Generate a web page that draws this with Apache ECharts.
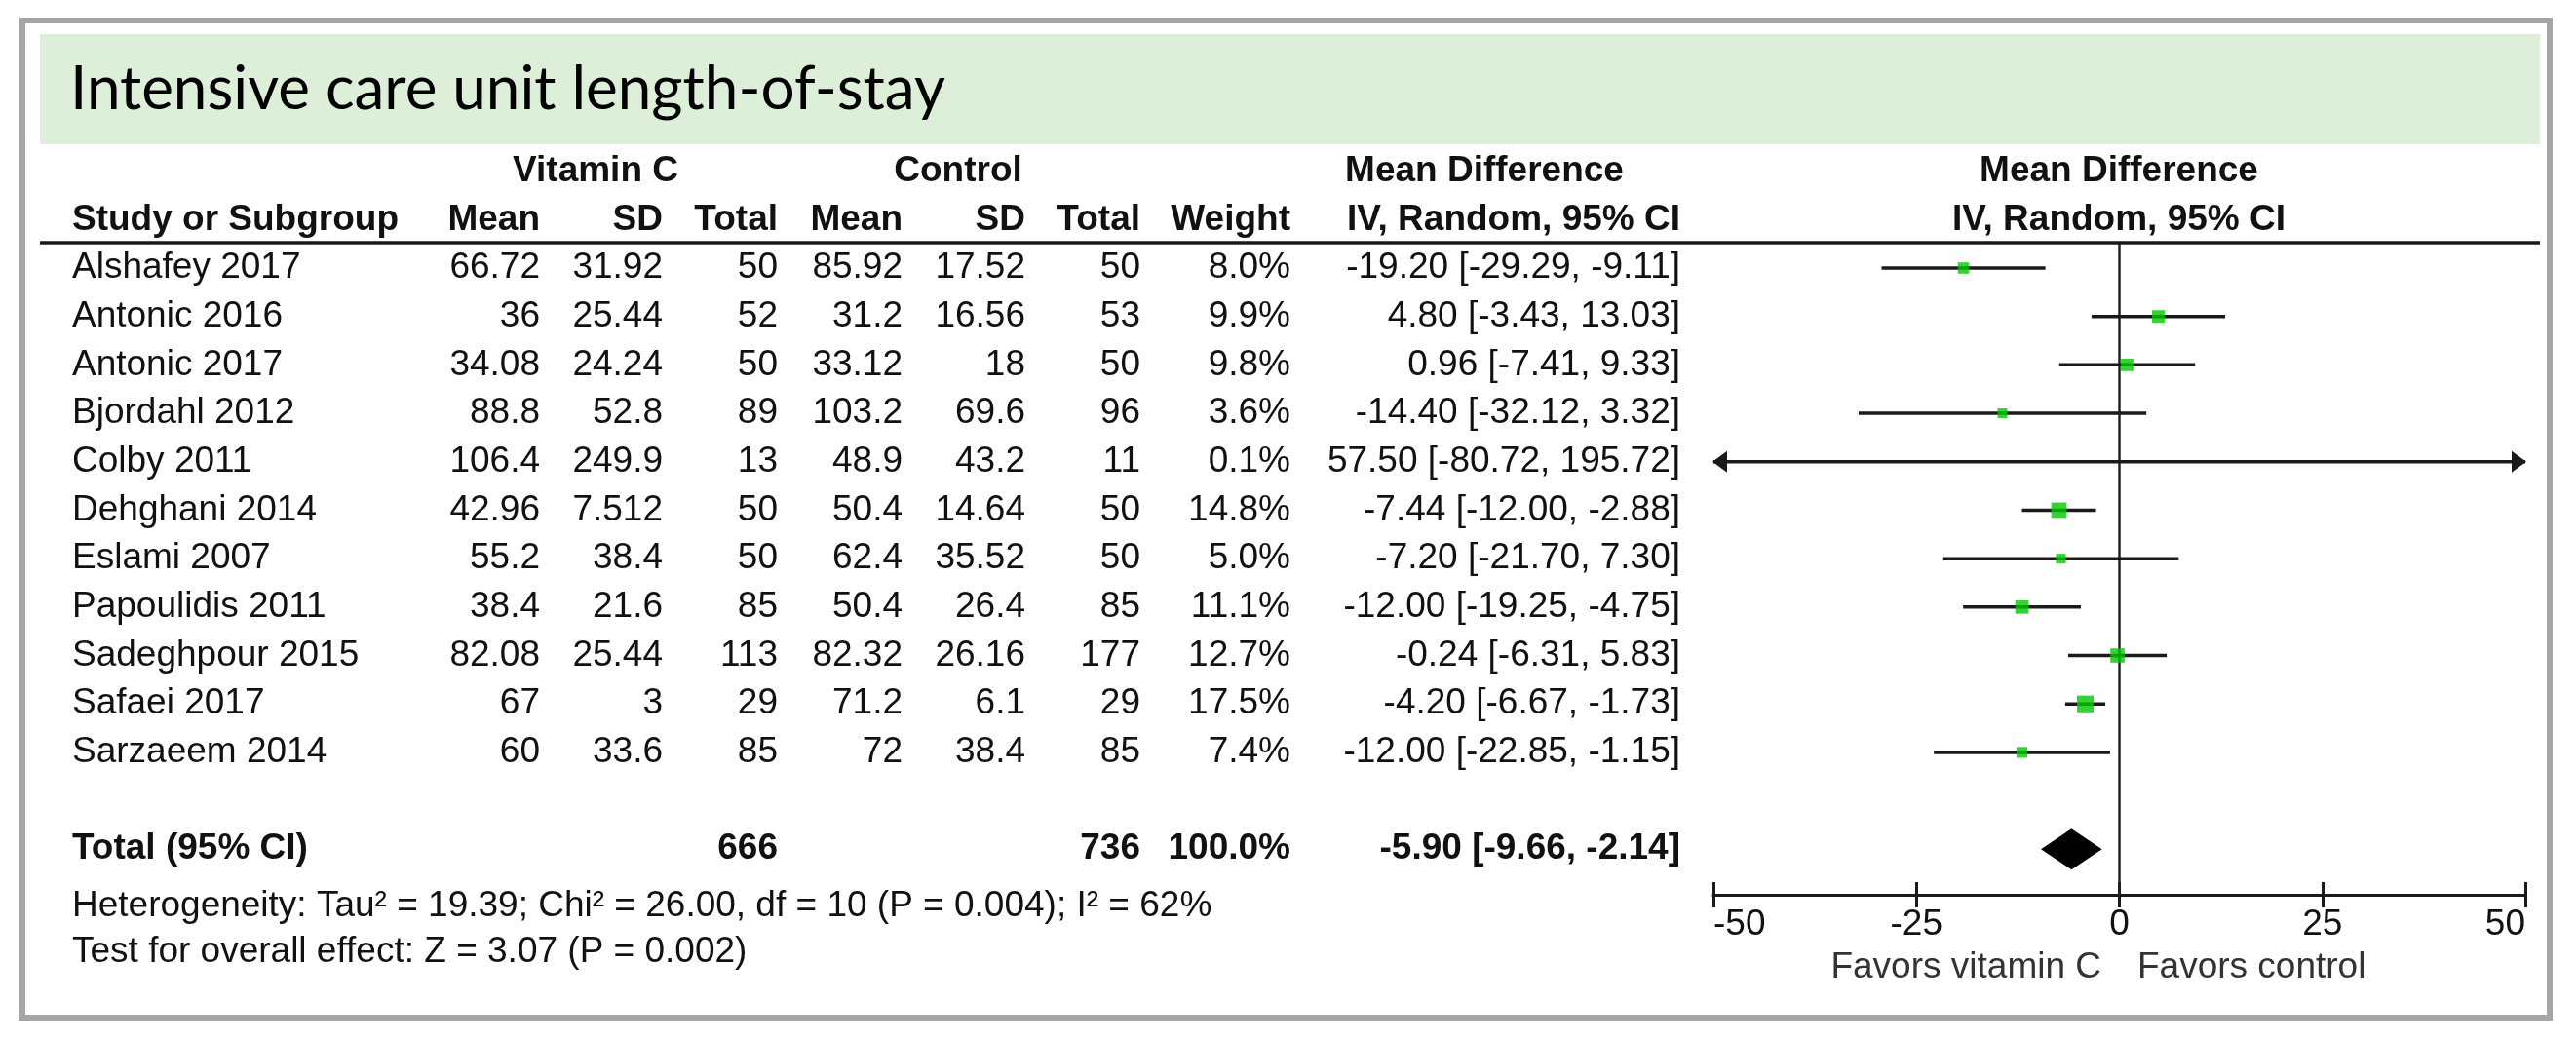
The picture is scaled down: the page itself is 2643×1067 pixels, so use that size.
<!DOCTYPE html>
<html><head><meta charset="utf-8">
<script src="https://cdn.jsdelivr.net/npm/echarts@6/dist/echarts.min.js"></script>
<style>html,body{margin:0;padding:0;background:#fff}#c{width:2643px;height:1067px}</style>
</head><body><div id="c"></div>
<script>
// ---------- data ----------
const studies = ['Alshafey 2017','Antonic 2016','Antonic 2017','Bjordahl 2012','Colby 2011','Dehghani 2014','Eslami 2007','Papoulidis 2011','Sadeghpour 2015','Safaei 2017','Sarzaeem 2014'];
const vitCMean = ['66.72','36','34.08','88.8','106.4','42.96','55.2','38.4','82.08','67','60'];
const vitCSD = ['31.92','25.44','24.24','52.8','249.9','7.512','38.4','21.6','25.44','3','33.6'];
const vitCTotal = [50,52,50,89,13,50,50,85,113,29,85];
const ctrlMean = ['85.92','31.2','33.12','103.2','48.9','50.4','62.4','50.4','82.32','71.2','72'];
const ctrlSD = ['17.52','16.56','18','69.6','43.2','14.64','35.52','26.4','26.16','6.1','38.4'];
const ctrlTotal = [50,53,50,96,11,50,50,85,177,29,85];
const weights = [8.0,9.9,9.8,3.6,0.1,14.8,5.0,11.1,12.7,17.5,7.4];
const meanDiff = [-19.20,4.80,0.96,-14.40,57.50,-7.44,-7.20,-12.00,-0.24,-4.20,-12.00];
const ciLower = [-29.29,-3.43,-7.41,-32.12,-80.72,-12.00,-21.70,-19.25,-6.31,-6.67,-22.85];
const ciUpper = [-9.11,13.03,9.33,3.32,195.72,-2.88,7.30,-4.75,5.83,-1.73,-1.15];
const totalVitC = 666;
const totalCtrl = 736;
const totalWeight = 100.0;
const pooled = [-5.90, -9.66, -2.14]; // estimate, lower, upper
const xTicks = [-50, -25, 0, 25, 50];
const titleText = 'Intensive care unit length-of-stay';
const heterogeneityText = 'Heterogeneity: Tau\u00b2 = 19.39; Chi\u00b2 = 26.00, df = 10 (P = 0.004); I\u00b2 = 62%';
const overallText = 'Test for overall effect: Z = 3.07 (P = 0.002)';
const favorsLeft = 'Favors vitamin C';
const favorsRight = 'Favors control';

// ---------- layout / style ----------
const FONT = "'Liberation Sans', Arial, sans-serif";
const FS = 37;
const TXT = '#111';
const totalRowIndex = studies.length + 1;
const nameX = 74;
const colRight = [554, 680, 798, 926, 1052, 1170, 1324, 1724];
const fmt2 = v => v.toFixed(2);
const ciText = i => fmt2(meanDiff[i]) + ' [' + fmt2(ciLower[i]) + ', ' + fmt2(ciUpper[i]) + ']';

const chart = echarts.init(document.getElementById('c'), null, {renderer: 'canvas'});

function txt(x, y, text, align, bold, fill) {
  return {type: 'text', x: x, y: y, z: 5, silent: true,
    style: {text: text, fill: fill || TXT, align: align || 'left', verticalAlign: 'middle',
      font: (bold ? 'bold ' : '') + FS + 'px ' + FONT}};
}

const xMin = xTicks[0], xMax = xTicks[xTicks.length - 1];
const tableData = studies.map((s, i) => [0, i]);

const option = {
  backgroundColor: '#ffffff',
  animation: false,
  grid: [{left: 1758, width: 833, top: 249, height: 669, containLabel: false}],
  xAxis: [
    {type: 'value', gridIndex: 0, min: xMin, max: xMax, interval: xTicks[1] - xTicks[0], position: 'bottom',
      axisLine: {show: true, onZero: false, lineStyle: {color: '#1a1a1a', width: 3}},
      axisTick: {show: true, length: 13, lineStyle: {color: '#1a1a1a', width: 3}},
      axisLabel: {show: true, fontSize: FS, fontFamily: FONT, color: TXT, margin: 12,
        alignMinLabel: 'left', alignMaxLabel: 'right'},
      splitLine: {show: false}},
    {type: 'value', gridIndex: 0, min: xMin, max: xMax, interval: xTicks[1] - xTicks[0], position: 'bottom', offset: 0,
      axisLine: {show: false, onZero: false},
      axisTick: {show: true, inside: true, length: 13, lineStyle: {color: '#1a1a1a', width: 3}},
      axisLabel: {show: false}, splitLine: {show: false}}
  ],
  yAxis: [{type: 'value', gridIndex: 0, inverse: true, min: -0.523, max: 12.94, show: false}],
  graphic: [
    {type: 'rect', z: 0, silent: true, shape: {x: 23, y: 21, width: 2593, height: 1023},
      style: {fill: '#ffffff', stroke: '#a6a6a6', lineWidth: 6}},
    {type: 'rect', z: 1, silent: true, shape: {x: 41, y: 35, width: 2565, height: 113},
      style: {fill: '#ddefd9'}},
    {type: 'text', z: 5, silent: true, x: 72, y: 92,
      style: {text: titleText, fill: '#000', align: 'left', verticalAlign: 'middle', font: "62px Lato, 'Open Sans', sans-serif"}},
    {type: 'line', z: 5, silent: true, shape: {x1: 41, y1: 249, x2: 2606, y2: 249},
      style: {stroke: '#1a1a1a', lineWidth: 3.5}},
    // header row 1
    txt(611, 176, 'Vitamin C', 'center', true),
    txt(983, 176, 'Control', 'center', true),
    txt(1523, 176, 'Mean Difference', 'center', true),
    txt(2174, 176, 'Mean Difference', 'center', true),
    // header row 2
    txt(nameX, 226, 'Study or Subgroup', 'left', true),
    txt(colRight[0], 226, 'Mean', 'right', true),
    txt(colRight[1], 226, 'SD', 'right', true),
    txt(colRight[2], 226, 'Total', 'right', true),
    txt(colRight[3], 226, 'Mean', 'right', true),
    txt(colRight[4], 226, 'SD', 'right', true),
    txt(colRight[5], 226, 'Total', 'right', true),
    txt(colRight[6], 226, 'Weight', 'right', true),
    txt(colRight[7], 226, 'IV, Random, 95% CI', 'right', true),
    txt(2174, 226, 'IV, Random, 95% CI', 'center', true),
    // footer
    txt(nameX, 930, heterogeneityText, 'left', false),
    txt(nameX, 977, overallText, 'left', false),
    txt(2156, 993, favorsLeft, 'right', false, '#333'),
    txt(2193, 993, favorsRight, 'left', false, '#333')
  ],
  series: [
    // table text per study
    {type: 'custom', xAxisIndex: 0, yAxisIndex: 0, clip: false, silent: true, z: 4,
      data: tableData,
      renderItem: function (params, api) {
        const i = params.dataIndex;
        const y = api.coord([0, api.value(1)])[1];
        const cells = [vitCMean[i], vitCSD[i], String(vitCTotal[i]), ctrlMean[i], ctrlSD[i], String(ctrlTotal[i]),
          weights[i].toFixed(1) + '%', ciText(i)];
        const children = [{type: 'text', x: nameX, y: y, style: {text: studies[i], fill: TXT, align: 'left', verticalAlign: 'middle', font: FS + 'px ' + FONT}}];
        cells.forEach((c, k) => children.push({type: 'text', x: colRight[k], y: y,
          style: {text: c, fill: TXT, align: 'right', verticalAlign: 'middle', font: FS + 'px ' + FONT}}));
        return {type: 'group', children: children};
      }},
    // total row text
    {type: 'custom', xAxisIndex: 0, yAxisIndex: 0, clip: false, silent: true, z: 4,
      data: [[0, totalRowIndex]],
      renderItem: function (params, api) {
        const y = api.coord([0, api.value(1)])[1];
        const f = 'bold ' + FS + 'px ' + FONT;
        const mk = (x, t, a) => ({type: 'text', x: x, y: y, style: {text: t, fill: TXT, align: a, verticalAlign: 'middle', font: f}});
        return {type: 'group', children: [
          mk(nameX, 'Total (95% CI)', 'left'),
          mk(colRight[2], String(totalVitC), 'right'),
          mk(colRight[5], String(totalCtrl), 'right'),
          mk(colRight[6], totalWeight.toFixed(1) + '%', 'right'),
          mk(colRight[7], fmt2(pooled[0]) + ' [' + fmt2(pooled[1]) + ', ' + fmt2(pooled[2]) + ']', 'right')
        ]};
      }},
    // confidence interval lines with arrows when off-scale
    {type: 'custom', xAxisIndex: 0, yAxisIndex: 0, clip: false, silent: true, z: 3,
      data: studies.map((s, i) => [i, ciLower[i], ciUpper[i]]),
      renderItem: function (params, api) {
        const row = api.value(0), lo = api.value(1), hi = api.value(2);
        const p1 = api.coord([Math.max(lo, xMin), row]);
        const p2 = api.coord([Math.min(hi, xMax), row]);
        const col = '#1a1a1a';
        const ch = [{type: 'line', shape: {x1: p1[0], y1: p1[1], x2: p2[0], y2: p2[1]}, style: {stroke: col, lineWidth: 3.5}}];
        if (lo < xMin) ch.push({type: 'polygon', shape: {points: [[p1[0] - 1, p1[1]], [p1[0] + 14, p1[1] - 11], [p1[0] + 14, p1[1] + 11]]}, style: {fill: col}});
        if (hi > xMax) ch.push({type: 'polygon', shape: {points: [[p2[0] + 1, p2[1]], [p2[0] - 14, p2[1] - 11], [p2[0] - 14, p2[1] + 11]]}, style: {fill: col}});
        return {type: 'group', children: ch};
      }},
    // study squares
    {type: 'scatter', xAxisIndex: 0, yAxisIndex: 0, z: 6, silent: true, clip: true,
      symbol: 'rect',
      symbolSize: v => Math.max(10, 4.1 * Math.sqrt(v[2])),
      itemStyle: {color: '#00c800'},
      data: studies.map((s, i) => [meanDiff[i], i, weights[i]]),
      markLine: {silent: true, symbol: ['none', 'none'], label: {show: false}, z: 2,
        lineStyle: {color: '#222', width: 2.5, type: 'solid'},
        data: [{xAxis: 0}]}},
    // pooled diamond
    {type: 'custom', xAxisIndex: 0, yAxisIndex: 0, clip: false, silent: true, z: 6,
      data: [[totalRowIndex, pooled[0], pooled[1], pooled[2]]],
      renderItem: function (params, api) {
        const row = api.value(0);
        const c = api.coord([api.value(1), row]);
        const l = api.coord([api.value(2), row]);
        const r = api.coord([api.value(3), row]);
        const h = 21;
        return {type: 'polygon', shape: {points: [[l[0], c[1]], [c[0], c[1] - h], [r[0], c[1]], [c[0], c[1] + h]]},
          style: {fill: '#000'}};
      }}
  ]
};
chart.setOption(option);
</script>
</body></html>
